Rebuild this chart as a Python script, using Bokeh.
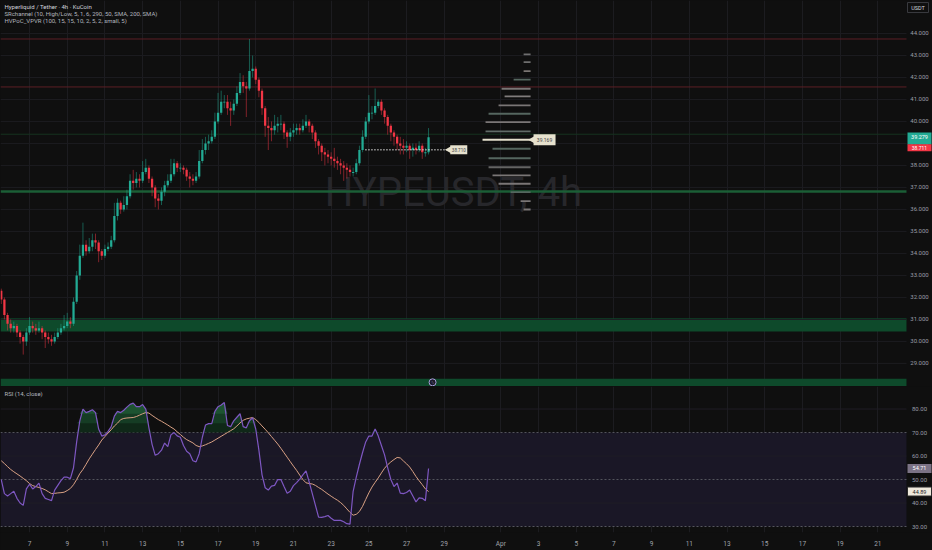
import numpy as np
from bokeh.plotting import figure
from bokeh.models import Range1d, FixedTicker, Grid, BoxAnnotation
from bokeh.layouts import column
from bokeh.embed import file_html
from bokeh.resources import INLINE
from bokeh.core.properties import value

BG = "#0f0f0f"
FONT = "Roboto"

# ---------------- data ----------------
t0 = 5.5            # first 4h candle: Mar 5, 12:00 (x axis in day-of-month units)
first_open = 32.3
closes = [31.9,31.2,30.8,30.6,30.7,30.4,30.2,30.0,30.4,30.7,
          30.6,30.5,30.6,30.4,30.2,30.1,30.0,30.2,30.4,30.6,
          30.7,30.9,30.8,31.8,33.0,33.9,34.4,34.1,34.3,34.6,
          34.5,34.1,33.9,34.2,34.3,34.6,35.7,36.3,36.0,36.2,
          36.6,37.3,37.2,37.4,37.3,37.7,37.9,37.4,37.0,36.5,
          36.4,36.8,37.1,37.3,37.6,38.1,37.9,37.9,37.8,37.5,
          37.4,37.3,37.5,38.2,38.7,39.0,39.1,39.3,40.0,40.4,
          40.9,40.9,40.6,40.5,40.8,41.3,41.8,41.6,41.5,42.3,
          42.4,41.9,41.4,40.6,39.8,39.7,39.6,39.8,39.9,39.9,
          39.5,39.3,39.5,39.6,39.7,39.6,39.8,40.0,39.8,39.5,
          39.1,38.9,38.6,38.5,38.4,38.3,38.2,38.1,38.0,37.9,
          37.8,37.7,37.7,38.1,38.7,39.3,40.0,40.4,40.4,40.7,
          40.9,40.5,40.2,39.8,39.5,39.3,39.0,38.9,38.8,38.9,
          38.7,38.8,38.7,38.9,38.6,38.6,39.28]
highs = [32.4,32.0,31.3,31.0,30.9,30.8,30.5,30.3,30.6,31.1,
         30.9,30.8,30.9,30.7,30.5,30.4,30.3,30.4,30.6,30.8,
         31.2,31.3,31.1,32.0,33.2,34.4,35.4,34.6,34.7,34.9,
         34.9,34.6,34.2,34.4,34.5,34.8,36.3,36.5,36.4,36.6,
         36.9,37.6,37.8,37.7,37.6,38.2,38.3,38.0,37.5,37.1,
         36.7,37.0,37.3,37.6,38.3,38.3,38.2,38.1,38.0,37.9,
         37.7,37.6,37.7,38.7,39.2,39.3,39.4,39.6,40.4,41.3,
         41.4,41.2,41.2,40.9,41.0,41.6,42.2,42.1,41.8,43.75,
         43.0,42.5,42.0,41.5,40.7,40.2,40.0,40.3,40.2,40.3,
         40.0,39.6,39.7,39.9,39.9,39.9,40.1,40.3,40.1,39.9,
         39.6,39.2,39.0,38.8,38.7,38.6,38.8,38.4,38.3,38.2,
         38.1,38.0,37.9,38.3,38.9,39.6,40.2,41.2,40.7,41.5,
         41.0,41.0,40.6,40.3,39.9,39.6,39.4,39.3,39.2,39.1,
         39.0,39.0,39.0,39.1,39.0,38.8,39.7]
lows = [31.7,31.0,30.5,30.4,30.4,30.2,29.9,29.4,29.8,30.3,
        30.4,30.3,30.4,30.1,29.7,29.9,29.8,29.9,30.1,30.3,
        30.5,30.6,30.6,30.7,31.7,32.8,33.8,33.9,34.0,34.1,
        34.2,33.6,33.7,33.8,34.1,34.2,34.5,35.5,35.8,35.9,
        36.0,36.5,36.9,37.0,37.0,37.2,37.6,37.2,36.6,36.1,
        36.0,36.2,36.6,37.0,37.2,37.5,37.7,37.7,37.6,37.3,
        37.0,37.1,37.2,37.4,38.1,38.5,38.7,39.0,39.2,39.9,
        40.3,40.6,40.3,39.8,40.3,40.7,41.2,41.3,40.2,41.4,
        42.0,41.7,41.1,40.3,39.3,38.7,39.1,39.4,39.5,39.6,
        39.2,38.8,39.1,39.3,39.4,39.4,39.5,39.7,39.5,39.2,
        38.8,38.5,38.2,38.0,38.1,38.0,37.9,37.8,37.6,37.3,
        37.4,37.5,37.5,37.6,38.0,38.6,39.2,39.9,40.1,40.3,
        40.6,40.3,39.9,39.4,39.1,38.9,38.7,38.5,38.5,38.6,
        38.3,38.4,38.5,38.6,38.3,38.4,38.5]
rsi = [50,44,43,44,45,42,40,39,46,48,
       46,47,48.5,44,42,41.5,41,45.5,47.5,49.5,
       51,51,50.4,55,66,75,80,78.5,79,79.7,
       78.5,71.5,68.5,69,70.5,72.5,77,79,78.5,79.5,
       80.8,82,82.5,81,81,81.9,80,72,65,60.3,
       61,62.5,65.5,64,69,70,68.6,68,64.5,62,
       61,58,57.5,61,68,73.2,73.8,73.8,79,81,
       81.7,82.8,73,72.5,75,76.5,78,72.5,72,75,
       76.3,71.5,62.5,52,46.5,45.5,47.2,47.5,50,50,
       47,44.2,45,47.4,48.7,50.2,52,53.7,49,44,
       39,34,33.9,34.2,34.7,33.5,32.6,32.6,32.6,32,
       31.2,31,45,51,56.5,61.5,66,68.5,68.5,71.5,
       68.5,64.5,60.5,55,50,47,48.5,44.2,44,44.5,
       45.5,43,40.5,42.2,42,41,54.71]
rsi_ma = [58,56.8,55.5,54.3,53.3,52.4,51.5,50.5,49.5,48.3,
          47.4,47,46.6,46.2,45.6,44.8,44,44.1,44.3,44.4,
          44.6,45.3,46.2,47.8,50,52.5,54.3,56.5,58.8,60.8,
          62.8,64.7,66.8,68.3,69.8,71.2,72.8,74,75.5,76,
          76.2,76.3,76.4,76.8,77.4,78,78.5,78.3,77.3,76.4,
          75.5,74.8,74,73.2,72.3,71.5,70.3,69.2,68,67,
          66.3,65.6,64.5,64,64.3,64.8,65.4,66,66.8,67.6,
          68.4,69.2,70,70.8,71.6,72.8,74.1,75.2,75.8,76.1,
          76.4,75.5,74.3,72.8,71.4,69.9,68.3,66.7,65.1,63.3,
          61.4,59.5,57.6,55.7,53.9,51.9,50,48.6,48.3,48.1,
          47.5,46.6,45.8,44.8,43.8,42.9,42,41.2,40.2,39,
          37.5,36,34.8,35.2,36.4,38.6,41.5,44.3,46.8,48.8,
          50.7,52.8,54.8,56.3,57.5,58.5,59.4,59.2,57.9,56.7,
          55.3,53.4,51.3,49.5,47.8,46,44.89]

date_ticks = [7, 9, 11, 13, 15, 17, 19, 21, 23, 25, 27, 29,
              32, 34, 36, 38, 40, 42, 44, 46, 48, 50, 52]
date_labels = ["7", "9", "11", "13", "15", "17", "19", "21", "23", "25", "27", "29",
               "Apr", "3", "5", "7", "9", "11", "13", "15", "17", "19", "21"]
price_ticks = [29, 30, 31, 32, 33, 34, 35, 36, 37, 38, 39, 40, 41, 42, 43, 44]
price_labels = ["29.000", "30.000", "31.000", "32.000", "33.000", "34.000", "35.000", "36.000",
                "37.000", "38.000", "39.000", "40.000", "41.000", "42.000", "43.000", "44.000"]
rsi_ticks = [30, 40, 50, 60, 70, 80]
rsi_labels = ["30.00", "40.00", "50.00", "60.00", "70.00", "80.00"]

resistance_lines = [43.75, 41.57]
weak_support_lines = [39.42]
support_lines = [36.82]
zone_bottoms = [30.45, 27.95]
zone_tops = [31.05, 28.30]

vp_prices = [43.05, 42.70, 42.29, 41.90, 41.49, 41.14, 40.73, 40.35, 39.97, 39.55,
             39.17, 38.76, 38.33, 37.92, 37.55, 37.17, 36.79, 36.38, 36.00]
vp_lengths = [0.37, 0.37, 0.37, 0.90, 1.54, 1.38, 1.70, 2.23, 2.39, 2.39,
              2.55, 2.02, 2.23, 2.23, 2.02, 1.70, 1.06, 0.53, 0.37]
vp_colors = ["#6e6e6e", "#6e6e6e", "#7a7572", "#55665f", "#7a7676", "#807c7c", "#7a7676",
             "#55665f", "#7a7676", "#606b67", "#e4dfcc", "#55665f", "#55665f", "#646464",
             "#7a7676", "#7a7676", "#55665f", "#7a7676", "#7a7676"]
poc_price = 39.17
poc_text = "39.169"
dev_level = 38.71
dev_start, dev_end = 24.82, 29.17
dev_text = "38.710"
last_price = 39.28
last_text = "39.279"
low_tag_price = 38.80
low_tag_text = "38.711"
rsi_last_text = "54.71"
rsi_ma_last_text = "44.89"

# ---------------- layout constants ----------------
X0, X1 = 5.46, 54.90        # visible x range (includes price-scale strip)
EDGE = 53.52                # right edge of the chart panes
AXX = 54.21                 # centre of price scale labels
VP_RIGHT = 33.58
W = 932

n = len(closes)
xs = t0 + np.arange(n) / 6.0
opens = np.array([first_open] + closes[:-1])
cl = np.array(closes)
up = cl >= opens

xr = Range1d(X0, X1)

def base_fig(height, y0, y1, xloc=None, mbb=0):
    f = figure(width=W, height=height, x_range=xr, y_range=Range1d(y0, y1),
               output_backend="svg", toolbar_location=None,
               x_axis_location=xloc, y_axis_location=None,
               min_border_left=0, min_border_right=0, min_border_top=0,
               min_border_bottom=mbb)
    f.background_fill_color = BG
    f.border_fill_color = BG
    f.outline_line_color = None
    f.xgrid.visible = False
    f.ygrid.visible = False
    f.add_layout(Grid(dimension=0, ticker=FixedTicker(ticks=date_ticks),
                      grid_line_color="#1c1c20", grid_line_width=1))
    return f

# ================= main price pane =================
p = base_fig(386, 27.95, 45.5)

p.segment(x0=X0, x1=EDGE, y0=price_ticks, y1=price_ticks, line_color="#1c1c20", line_width=1)

for b, t in zip(zone_bottoms, zone_tops):
    p.add_layout(BoxAnnotation(bottom=b, top=t, right=EDGE, fill_color="#0e4a2b",
                               fill_alpha=1, line_color=None, level="underlay"))

p.text(x=[29.49], y=[36.77], text=["HYPEUSDT, 4h"], text_font=value(FONT),
       text_font_size="40px", text_color="#27272b", text_align="center",
       text_baseline="middle")

p.segment(x0=X0, x1=EDGE, y0=resistance_lines, y1=resistance_lines,
          line_color="#5c1f25", line_width=1)
p.segment(x0=X0, x1=EDGE, y0=weak_support_lines, y1=weak_support_lines,
          line_color="#16321f", line_width=1)
p.segment(x0=X0, x1=EDGE, y0=support_lines, y1=support_lines,
          line_color="#1b5e36", line_width=2.5)

vp_l = [VP_RIGHT - L for L in vp_lengths]
p.hbar(y=vp_prices, left=vp_l, right=VP_RIGHT, height=0.085, fill_color=vp_colors,
       line_color=None)

UPC, DNC = "#22ab94", "#f23645"
colors = [UPC if u else DNC for u in up]
p.segment(x0=xs, x1=xs, y0=lows, y1=highs, line_color=colors, line_alpha=0.5, line_width=1)
body_top = np.maximum(opens, cl)
body_bot = np.minimum(opens, cl)
body_bot = np.where(body_top - body_bot < 0.04, body_top - 0.04, body_bot)
p.vbar(x=xs, bottom=body_bot, top=body_top, width=0.12, fill_color=colors, line_color=None)

p.segment(x0=[dev_start], x1=[dev_end], y0=[dev_level], y1=[dev_level],
          line_color="#e6e6e6", line_width=1.5, line_dash="1 2")
p.scatter(x=[dev_end + 0.08], y=[dev_level], marker="triangle", angle=np.pi / 2,
          size=7, fill_color="#e6e1cd", line_color=None)
p.rect(x=[dev_end + 0.6], y=[dev_level], width=17, height=9, width_units="screen",
       height_units="screen", fill_color="#e6e1cd", line_color=None)
p.text(x=[dev_end + 0.6], y=[dev_level], text=[dev_text], text_font=value(FONT),
       text_font_size="4.5px", text_color="#444444", text_align="center", text_baseline="middle")

p.scatter(x=[VP_RIGHT + 0.12], y=[poc_price], marker="triangle", angle=np.pi / 2,
          size=8, fill_color="#e6e1cd", line_color=None)
p.rect(x=[VP_RIGHT + 0.74], y=[poc_price], width=22, height=11, width_units="screen",
       height_units="screen", fill_color="#e6e1cd", line_color=None)
p.text(x=[VP_RIGHT + 0.74], y=[poc_price], text=[poc_text], text_font=value(FONT),
       text_font_size="5px", text_color="#444444", text_align="center", text_baseline="middle")

# alert marker
p.scatter(x=[28.38], y=[28.14], size=7, fill_color="#1e1b2b", line_color="#a99ddb", line_width=1)
p.text(x=[28.38], y=[28.14], text=["ϟ"], text_font=value(FONT), text_font_size="5px",
       text_color="#cfc6f0", text_align="center", text_baseline="middle")

# price scale
p.text(x=AXX, y=price_ticks, text=price_labels, text_font=value(FONT), text_font_size="6px",
       text_color="#9a9da6", text_align="center", text_baseline="middle")
p.rect(x=[AXX], y=[last_price - 0.06], width=24, height=12, width_units="screen",
       height_units="screen", fill_color="#22ab94", line_color=None)
p.text(x=[AXX], y=[last_price], text=[last_text], text_font=value(FONT), text_font_size="5.5px",
       text_color="#ffffff", text_align="center", text_baseline="middle")
p.rect(x=[AXX], y=[low_tag_price], width=24, height=7, width_units="screen",
       height_units="screen", fill_color="#f23645", line_color=None)
p.text(x=[AXX], y=[low_tag_price], text=[low_tag_text], text_font=value(FONT),
       text_font_size="5px", text_color="#ffffff", text_align="center", text_baseline="middle")
p.rect(x=[54.13], y=[45.18], width=21, height=10, width_units="screen", height_units="screen",
       fill_color=None, line_color="#3a3b40", line_width=1)
p.text(x=[54.13], y=[45.18], text=["USDT"], text_font=value(FONT), text_font_size="5.5px",
       text_color="#d1d4dc", text_align="center", text_baseline="middle")

p.text(x=[5.67, 5.67, 5.67], y=[45.23, 44.90, 44.58],
       text=["Hyperliquid / Tether · 4h · KuCoin",
             "SRchannel (10, High/Low, 5, 1, 6, 290, 50, SMA, 200, SMA)",
             "HVPoC_VPVR (100, 15, 15, 10, 2, 5, 2, small, 5)"],
       text_font=value(FONT), text_font_size="6px",
       text_color=["#d1d4dc", "#b2b5be", "#b2b5be"], text_align="left", text_baseline="middle")

# ================= RSI pane =================
q = base_fig(164, 27.45, 89.6, xloc="below", mbb=18)
q.add_layout(BoxAnnotation(bottom=30, top=70, right=EDGE, fill_color="#1a1726",
                           fill_alpha=1, line_color=None, level="underlay"))
q.segment(x0=X0, x1=EDGE, y0=[40, 60, 80], y1=[40, 60, 80], line_color="#1f1d26", line_width=1)
q.segment(x0=X0, x1=EDGE, y0=[30, 50, 70], y1=[30, 50, 70], line_color="#55565e",
          line_width=1, line_dash="2 2")

r = np.array(rsi)
for lvl, col in [(70, "#0f2818"), (74, "#153c24"), (78, "#1d5331")]:
    q.varea(x=xs, y1=np.full(n, lvl), y2=np.maximum(r, lvl), fill_color=col)

q.line(xs, rsi_ma, line_color="#d9a184", line_width=1)
q.line(xs, rsi, line_color="#7e57c2", line_width=1.2)

q.text(x=[5.67], y=[86.7], text=["RSI (14, close)"], text_font=value(FONT),
       text_font_size="6px", text_color="#b2b5be", text_align="left", text_baseline="middle")

q.text(x=AXX, y=rsi_ticks, text=rsi_labels, text_font=value(FONT), text_font_size="6px",
       text_color="#9a9da6", text_align="center", text_baseline="middle")
q.rect(x=[AXX], y=[rsi[-1]], width=24, height=9, width_units="screen", height_units="screen",
       fill_color="#7b7285", line_color=None)
q.text(x=[AXX], y=[rsi[-1]], text=[rsi_last_text], text_font=value(FONT), text_font_size="5.5px",
       text_color="#ffffff", text_align="center", text_baseline="middle")
q.rect(x=[AXX], y=[rsi_ma[-1]], width=24, height=9, width_units="screen", height_units="screen",
       fill_color="#efe9dc", line_color="#2a2a2a")
q.text(x=[AXX], y=[rsi_ma[-1]], text=[rsi_ma_last_text], text_font=value(FONT),
       text_font_size="5.5px", text_color="#222222", text_align="center", text_baseline="middle")

ax = q.xaxis[0]
ax.ticker = FixedTicker(ticks=date_ticks)
ax.major_label_overrides = {t: l for t, l in zip(date_ticks, date_labels)}
ax.axis_line_color = None
ax.major_tick_line_color = None
ax.minor_tick_line_color = None
ax.major_tick_out = 0
ax.major_tick_in = 0
ax.minor_tick_out = 0
ax.minor_tick_in = 0
ax.major_label_text_color = "#a0a3ab"
ax.major_label_text_font = FONT
ax.major_label_text_font_size = "6.5px"
ax.major_label_standoff = 7

layout = column(p, q, spacing=0)
html = file_html(layout, INLINE, title="HYPEUSDT 4h")
html = html.replace("<head>", "<head><style>html,body{background:#0f0f0f;margin:0;padding:0;overflow:hidden;}</style>", 1)
open("out.html", "w").write(html)
